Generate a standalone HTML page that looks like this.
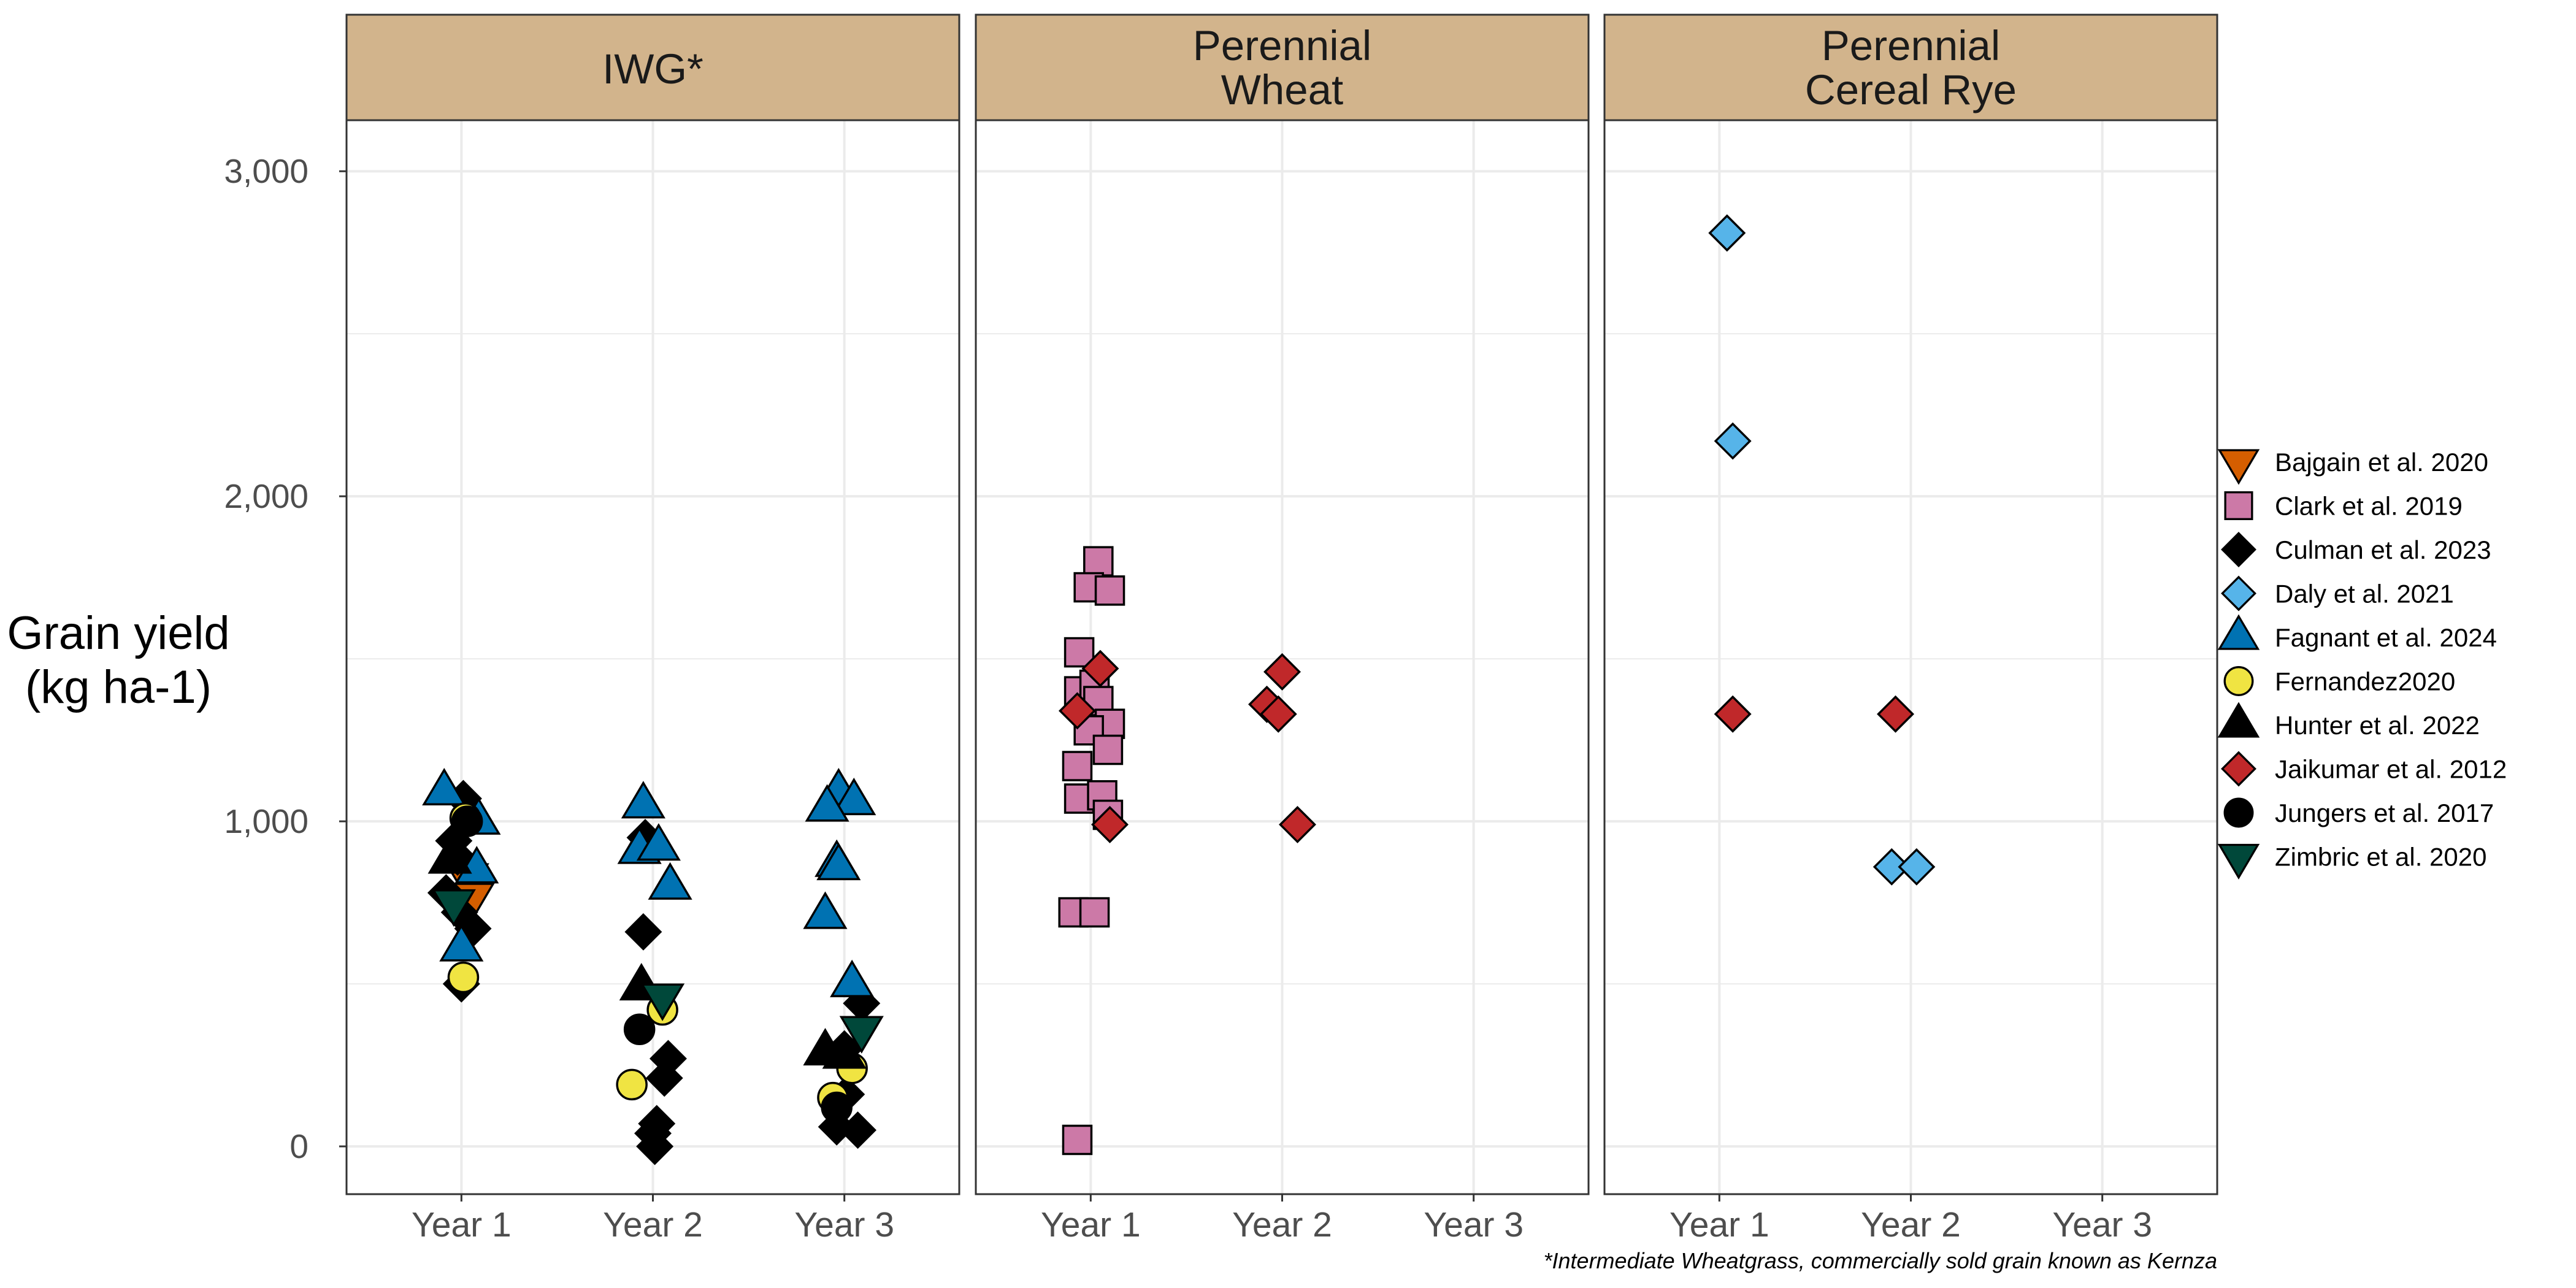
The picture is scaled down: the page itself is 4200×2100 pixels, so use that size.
<!DOCTYPE html>
<html><head><meta charset="utf-8"><style>
html,body{margin:0;padding:0;background:#fff;}
svg{display:block;font-family:"Liberation Sans",Arial,sans-serif;}
</style></head><body>
<svg id="c" width="4200" height="2100" viewBox="0 0 4200 2100" xmlns="http://www.w3.org/2000/svg"></svg>
<script>
const panels = ["IWG*", "Perennial\nWheat", "Perennial\nCereal Rye"];
const categories = ["Year 1", "Year 2", "Year 3"];
const studies = ["Bajgain et al. 2020","Clark et al. 2019","Culman et al. 2023","Daly et al. 2021","Fagnant et al. 2024","Fernandez2020","Hunter et al. 2022","Jaikumar et al. 2012","Jungers et al. 2017","Zimbric et al. 2020"];
const yTicks = [0, 1000, 2000, 3000];
const yTickLabels = ["0", "1,000", "2,000", "3,000"];
// each point: [panelIndex, categoryIndex(1-3)+jitter, yield]
const bajgain = [[0,1.03,830],[0,1.06,770]];
const clark = [[1,1.04,1800],[1,0.99,1720],[1,1.10,1710],[1,0.94,1520],[1,0.94,1400],[1,1.02,1420],[1,1.04,1370],[1,1.10,1300],[1,0.99,1280],[1,1.09,1220],[1,0.93,1170],[1,0.94,1070],[1,1.06,1080],[1,1.09,1020],[1,0.91,720],[1,1.02,720],[1,0.93,20]];
const culman = [[0,1.01,1070],[0,0.96,940],[0,0.98,890],[0,0.92,780],[0,0.99,720],[0,1.06,670],[0,1.0,500],[0,1.96,950],[0,1.95,660],[0,2.08,270],[0,2.06,210],[0,2.02,70],[0,2.0,40],[0,2.01,0],[0,3.09,440],[0,3.01,160],[0,2.96,60],[0,3.07,50],[0,3.0,300]];
const daly = [[2,1.04,2810],[2,1.07,2170],[2,1.90,860],[2,2.03,860]];
const fagnant = [[0,0.91,1090],[0,1.09,1000],[0,1.08,850],[0,1.0,610],[0,1.95,1050],[0,1.93,910],[0,2.03,920],[0,2.09,800],[0,2.97,1090],[0,3.05,1060],[0,2.91,1040],[0,2.96,870],[0,2.97,860],[0,2.90,710],[0,3.04,500]];
const fernandez = [[0,1.02,1010],[0,1.01,520],[0,2.05,420],[0,1.89,190],[0,3.04,240],[0,2.94,150]];
const hunter = [[0,0.94,880],[0,1.94,490],[0,2.90,290],[0,3.0,280]];
const jaikumar = [[1,1.05,1470],[1,0.93,1340],[1,1.10,990],[1,2.0,1460],[1,1.92,1360],[1,1.98,1330],[1,2.08,990],[2,1.07,1330],[2,1.92,1330]];
const jungers = [[0,1.03,1000],[0,1.93,360],[0,2.96,120]];
const zimbric = [[0,0.96,750],[0,2.05,460],[0,3.09,360]];
const seriesData = [bajgain, clark, culman, daly, fagnant, fernandez, hunter, jaikumar, jungers, zimbric];
const shapes = ["tridown","square","diamond","diamond","triangle","circle","triangle","diamond","circle","tridown"];
const fills = ["#D55E00","#CC79A7","#000000","#56B4E9","#0072B2","#F0E442","#000000","#C0282A","#000000","#00483A"];

const NS="http://www.w3.org/2000/svg";
const svg=document.getElementById('c');
const panelLeft=[565,1591,2616], panelW=999, plotTop=196, plotBot=1947, headTop=24;
const yMin=-147, yMax=3157;
function y(v){return plotBot-(v-yMin)/(yMax-yMin)*(plotBot-plotTop);}
function x(p,c){return panelLeft[p]+(c-0.4)/3.2*panelW;}
function mk(tag,attrs,parent){const e=document.createElementNS(NS,tag);for(const k in attrs)e.setAttribute(k,attrs[k]);(parent||svg).appendChild(e);return e;}

function drawShape(shape,cx,cy,fill,parent,s){
  s=s||1;let e;
  if(shape==="circle"){e=mk('circle',{cx:cx,cy:cy,r:24*s},parent);}
  else if(shape==="square"){e=mk('rect',{x:cx-23*s,y:cy-23*s,width:46*s,height:46*s},parent);}
  else if(shape==="diamond"){const d=28*s;e=mk('polygon',{points:`${cx},${cy-d} ${cx+d},${cy} ${cx},${cy+d} ${cx-d},${cy}`},parent);}
  else if(shape==="triangle"){const w=33*s;e=mk('polygon',{points:`${cx},${cy-36*s} ${cx+w},${cy+20*s} ${cx-w},${cy+20*s}`},parent);}
  else {const w=33*s;e=mk('polygon',{points:`${cx},${cy+36*s} ${cx+w},${cy-20*s} ${cx-w},${cy-20*s}`},parent);}
  e.setAttribute('fill',fill);e.setAttribute('stroke','#000');e.setAttribute('stroke-width',3.5*s);
  return e;
}

panels.forEach((name,p)=>{
  const g=mk('g',{});
  
  
  const L=panelLeft[p];
  mk('rect',{x:L,y:plotTop,width:panelW,height:plotBot-plotTop,fill:'#fff'},g);
  for(let v=-500;v<=3500;v+=500){const yy=y(v);if(yy<plotTop||yy>plotBot)continue;
    mk('line',{x1:L,x2:L+panelW,y1:yy,y2:yy,stroke:'#EBEBEB','stroke-width':v%1000===0?4:2},g);}
  categories.forEach((c,i)=>{mk('line',{x1:x(p,i+1),x2:x(p,i+1),y1:plotTop,y2:plotBot,stroke:'#EBEBEB','stroke-width':4},g);
    const t=mk('text',{x:x(p,i+1),y:2016,'text-anchor':'middle','font-size':57,fill:'#4D4D4D'},g);t.textContent=c;
    
    mk('line',{x1:x(p,i+1),x2:x(p,i+1),y1:plotBot,y2:plotBot+12,stroke:'#333','stroke-width':3},g);});
  const h=mk('rect',{x:L,y:headTop,width:panelW,height:plotTop-headTop,fill:'#D2B48C',stroke:'#333','stroke-width':3},g);
  
  const lines=name.split('\n');
  lines.forEach((ln,i)=>{const t=mk('text',{x:L+panelW/2,y:(lines.length===1?136:98+i*72),'text-anchor':'middle','font-size':69,fill:'#1A1A1A'},g);t.textContent=ln;
    });
  const pg=mk('g',{},g);
  seriesData.forEach((arr,si)=>{arr.filter(d=>d[0]===p).forEach(d=>{
    const e=drawShape(shapes[si],x(p,d[1]),y(d[2]),fills[si],pg);
    
    
  });});
  mk('rect',{x:L,y:plotTop,width:panelW,height:plotBot-plotTop,fill:'none',stroke:'#333','stroke-width':3},g);
});
yTicks.forEach((v,i)=>{
  const t=mk('text',{x:503,y:y(v)+19,'text-anchor':'end','font-size':55,fill:'#4D4D4D'});t.textContent=yTickLabels[i];
  
  mk('line',{x1:553,x2:565,y1:y(v),y2:y(v),stroke:'#333','stroke-width':3});
});
const yt=mk('text',{x:193,y:0,'text-anchor':'middle','font-size':76,fill:'#000'});

['Grain yield','(kg ha-1)'].forEach((s,i)=>{const ts=mk('tspan',{x:193,y:1058+i*88},yt);ts.textContent=s;});
const lg=mk('g',{});

studies.forEach((s,i)=>{
  const cy=753+i*71.5;
  const e=drawShape(shapes[i],3650,cy,fills[i],lg,0.95);
  
  const t=mk('text',{x:3709,y:cy+15,'font-size':42,fill:'#000'},lg);t.textContent=s;
  
});
const fn=mk('text',{x:3615,y:2068,'text-anchor':'end','font-size':36,'font-style':'italic',fill:'#000'});
fn.textContent='*Intermediate Wheatgrass, commercially sold grain known as Kernza';

</script>
</body></html>
